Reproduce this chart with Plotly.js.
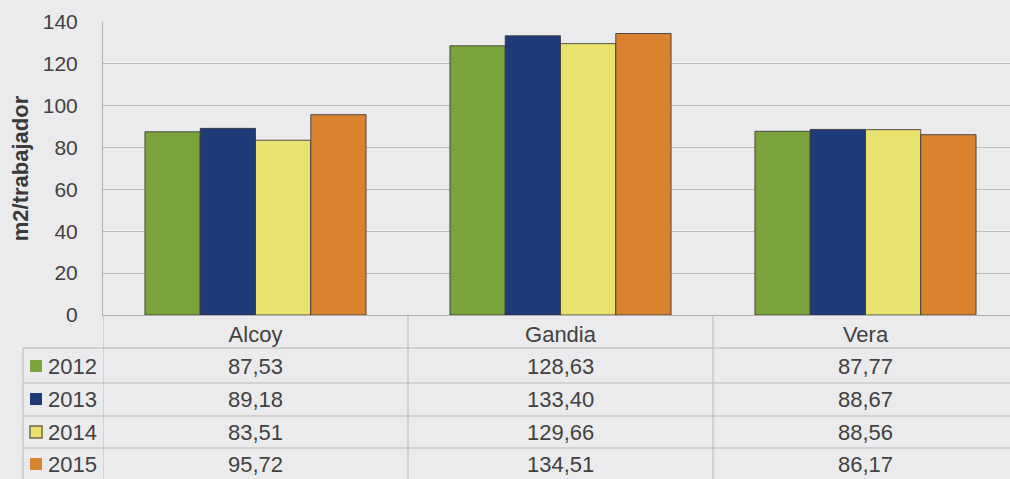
<!DOCTYPE html>
<html>
<head>
<meta charset="utf-8">
<script src="https://cdn.plot.ly/plotly-3.0.1.min.js"></script>
<style>html,body{margin:0;padding:0;background:#ebebed;}#chart{width:1010px;height:479px;}</style>
</head>
<body>
<div id="chart"></div>
<script>
// ---- data ----
const categories = ['Alcoy', 'Gandia', 'Vera'];
const years = ['2012', '2013', '2014', '2015'];
const values2012 = [87.53, 128.63, 87.77];
const values2013 = [89.18, 133.40, 88.67];
const values2014 = [83.51, 129.66, 88.56];
const values2015 = [95.72, 134.51, 86.17];
const yTickValues = [0, 20, 40, 60, 80, 100, 120, 140];
const yAxisTitle = 'm2/trabajador';

// ---- styles ----
const seriesValues = [values2012, values2013, values2014, values2015];
const seriesColors = ['#7aa33c', '#1f3a78', '#e9e26f', '#d9832e'];
const textColor = '#424242';
const gridColor = '#bcbcbc';
const W = 1010, H = 479;
const M = {l: 103, r: 0, t: 22, b: 164};
const plotW = W - M.l - M.r, plotH = H - M.t - M.b;
const px2x = p => (p - M.l) / plotW;
const py2y = p => (M.t + plotH - p) / plotH;
const fmt = v => v.toFixed(2).replace('.', ',');

const traces = years.map((yr, i) => ({
  type: 'bar',
  name: yr,
  x: categories,
  y: seriesValues[i],
  marker: {color: seriesColors[i], line: {color: 'rgba(55,55,55,0.85)', width: 1}},
  showlegend: false,
  hoverinfo: 'x+y+name'
}));

// table geometry (pixels)
const rowCenters = [366, 399, 432, 464];
const rowLines = [348, 383, 416, 448];
const tableBottom = 485;

const annotations = [];
const shapes = [];
years.forEach((yr, i) => {
  categories.forEach((c, j) => {
    annotations.push({
      x: c, xref: 'x', y: py2y(rowCenters[i]), yref: 'paper',
      text: fmt(seriesValues[i][j]), showarrow: false,
      xanchor: 'center', yanchor: 'middle',
      font: {family: 'Liberation Sans, Arial, sans-serif', size: 22, color: textColor}
    });
  });
  annotations.push({
    x: px2x(46), xref: 'paper', y: py2y(rowCenters[i]), yref: 'paper',
    text: yr, showarrow: false, xanchor: 'left', yanchor: 'middle',
    font: {family: 'Liberation Sans, Arial, sans-serif', size: 22, color: textColor}
  });
  shapes.push({
    type: 'rect', xref: 'paper', yref: 'paper',
    x0: px2x(30), x1: px2x(42),
    y0: py2y(rowCenters[i] + 6), y1: py2y(rowCenters[i] - 6),
    fillcolor: seriesColors[i],
    line: {color: i === 2 ? '#6a6a4a' : seriesColors[i], width: i === 2 ? 1.5 : 0}
  });
});

// horizontal table lines
rowLines.forEach(p => {
  shapes.push({type: 'line', xref: 'paper', yref: 'paper',
    x0: px2x(23), x1: 1, y0: py2y(p), y1: py2y(p),
    line: {color: '#b8b8b8', width: 1}});
});
// vertical table lines
[-0.5, 0.5, 1.5].forEach(xv => {
  shapes.push({type: 'line', xref: 'x', yref: 'paper',
    x0: xv, x1: xv, y0: 0, y1: py2y(tableBottom),
    line: {color: '#b8b8b8', width: 1}});
});
shapes.push({type: 'line', xref: 'paper', yref: 'paper',
  x0: px2x(23), x1: px2x(23), y0: py2y(348), y1: py2y(tableBottom),
  line: {color: '#b8b8b8', width: 1}});

const layout = {
  width: W, height: H,
  margin: M,
  paper_bgcolor: '#ebebed',
  plot_bgcolor: '#ebebed',
  font: {family: 'Liberation Sans, Arial, sans-serif', color: textColor},
  barmode: 'group',
  bargap: 0.275,
  bargroupgap: 0,
  xaxis: {
    type: 'category',
    range: [-0.5, -0.5 + plotW / 305],
    showgrid: false,
    showline: true, linecolor: '#b0b0b0', linewidth: 1,
    ticks: '',
    tickfont: {size: 22, color: textColor},
    ticklabelstandoff: 0,
    fixedrange: true
  },
  yaxis: {
    range: [0, 140],
    tickvals: yTickValues,
    showgrid: true, gridcolor: gridColor, gridwidth: 1,
    zeroline: false,
    showline: true, linecolor: '#b0b0b0', linewidth: 1,
    ticks: '',
    ticklabelstandoff: 20,
    tickfont: {size: 21, color: textColor},
    title: {text: yAxisTitle, standoff: 8,
      font: {size: 22, color: '#3a3a3a', family: 'Liberation Sans, Arial, sans-serif', weight: 'bold'}},
    fixedrange: true
  },
  annotations: annotations,
  shapes: shapes
};

Plotly.newPlot('chart', traces, layout, {displayModeBar: false, staticPlot: true});
</script>
</body>
</html>
